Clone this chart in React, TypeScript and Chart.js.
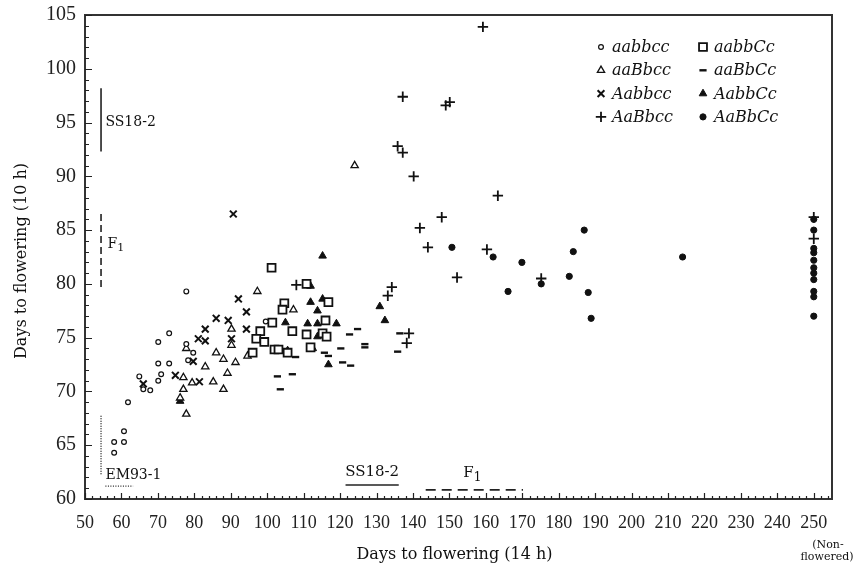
import React, { useEffect, useRef } from 'react';
import { Chart, registerables } from 'chart.js';

Chart.register(...registerables);

type P = [number, number];

// ---- series data: [days to flowering 14 h, days to flowering 10 h] ----
const aabbcc: P[] = [
  [58.0, 65.3], [60.7, 66.3], [58.0, 64.3], [60.7, 65.3], [61.8, 69.0], [64.9, 71.4],
  [66.0, 70.2], [67.9, 70.1], [70.1, 71.0], [70.9, 71.6], [70.1, 72.6], [73.1, 72.6],
  [70.1, 74.6], [73.1, 75.4], [77.8, 79.3], [77.8, 74.4], [78.3, 72.9], [79.7, 73.6],
  [99.6, 76.5],
];
const aabbCc: P[] = [
  [101.2, 81.5], [110.8, 80.0], [104.7, 78.2], [104.2, 77.6], [116.8, 78.3], [101.4, 76.4],
  [106.9, 75.6], [98.1, 75.6], [116.0, 76.6], [110.8, 75.3], [115.2, 75.4], [116.3, 75.1],
  [97.0, 74.9], [99.2, 74.6], [96.0, 73.6], [102.0, 73.9], [103.1, 73.9], [111.9, 74.1],
  [105.6, 73.6],
];
const aaBbcc: P[] = [
  [77.0, 71.3], [77.0, 70.2], [76.1, 69.4], [77.8, 67.9], [77.8, 74.0], [79.4, 70.8],
  [83.0, 72.3], [85.2, 70.9], [86.0, 73.6], [88.0, 73.0], [88.0, 70.2], [89.1, 71.7],
  [90.2, 75.8], [90.2, 74.3], [91.3, 72.7], [94.6, 73.3], [97.3, 79.3], [107.2, 77.6],
  [124.0, 91.0],
];
const aaBbCc: P[] = [
  [122.6, 75.3], [124.8, 75.8], [126.8, 74.4], [126.8, 74.1], [107.8, 73.2], [115.7, 73.6],
  [116.8, 73.3], [120.2, 74.0], [120.7, 72.7], [122.9, 72.4], [102.8, 71.4], [106.9, 71.6],
  [103.6, 70.2], [136.4, 75.4], [135.8, 73.7],
];
const Aabbcc: P[] = [
  [66.0, 70.7], [74.8, 71.5], [79.7, 72.8], [81.1, 74.9], [81.4, 70.9], [83.0, 74.7],
  [83.0, 75.8], [86.0, 76.8], [89.3, 76.6], [90.2, 74.9], [90.7, 86.5], [92.1, 78.6],
  [94.3, 77.4], [94.3, 75.8],
];
const AabbCc: P[] = [
  [115.2, 82.6], [111.9, 79.8], [111.9, 78.3], [115.2, 78.6], [113.8, 77.5], [105.0, 76.4],
  [111.1, 76.3], [113.8, 76.3], [119.0, 76.3], [113.8, 75.1], [105.6, 73.8], [112.5, 74.0],
  [116.8, 72.5], [130.9, 77.9], [132.3, 76.6], [76.1, 69.1],
];
const AaBbcc: P[] = [
  [108.0, 79.9], [133.1, 78.9], [134.2, 79.7], [135.8, 92.8], [137.2, 92.2], [137.2, 97.4],
  [138.9, 75.4], [138.3, 74.5], [140.2, 90.0], [141.9, 85.2], [144.1, 83.4], [147.9, 86.2],
  [149.0, 96.6], [150.1, 96.9], [152.1, 80.6], [159.2, 103.9], [160.3, 83.2], [163.3, 88.2],
  [175.2, 80.5], [250, 86.2], [250, 84.2],
];
const AaBbCc: P[] = [
  [150.7, 83.4], [162.0, 82.5], [169.9, 82.0], [166.1, 79.3], [175.2, 80.0], [182.9, 80.7],
  [184.0, 83.0], [187.0, 85.0], [188.1, 79.2], [188.9, 76.8], [214.0, 82.5], [250, 86.0],
  [250, 85.0], [250, 83.3], [250, 82.9], [250, 82.2], [250, 81.5], [250, 81.0], [250, 80.4],
  [250, 79.3], [250, 78.8], [250, 77.0],
];

const seriesNames = ['aabbcc', 'aabbCc', 'aaBbcc', 'aaBbCc', 'Aabbcc', 'AabbCc', 'AaBbcc', 'AaBbCc'];
const seriesData: P[][] = [aabbcc, aabbCc, aaBbcc, aaBbCc, Aabbcc, AabbCc, AaBbcc, AaBbCc];

// ---- axis ticks ----
const xTicks = [50, 60, 70, 80, 90, 100, 110, 120, 130, 140, 150, 160, 170, 180, 190, 200, 210, 220, 230, 240, 250];
const yTicks = [60, 65, 70, 75, 80, 85, 90, 95, 100, 105];

// ---- parental / F1 reference ranges ----
const ss18VertX = [54.4, 54.4];
const ss18VertY = [92.3, 98.2];
const f1VertX = [54.4, 54.4];
const f1VertY = [79.7, 86.7];
const em93VertX = [54.4, 54.4];
const em93VertY = [62.3, 67.8];
const em93UnderX = [55.6, 63.2];
const em93UnderY = [61.2, 61.2];
const ss18HorizX = [121.5, 136.1];
const ss18HorizY = [61.3, 61.3];
const f1HorizX = [143.5, 170.2];
const f1HorizY = [60.85, 60.85];

const INK = '#111';

type MStyle = { ps: string; r: number; fill: string; bw: number };
const markerStyles: MStyle[] = [
  { ps: 'circle', r: 2.4, fill: '#fff', bw: 1.2 },
  { ps: 'rect', r: 5.6, fill: '#fff', bw: 1.8 },
  { ps: 'triangle', r: 4.2, fill: '#fff', bw: 1.3 },
  { ps: 'line', r: 3.6, fill: INK, bw: 2.4 },
  { ps: 'crossRot', r: 4.8, fill: INK, bw: 2 },
  { ps: 'triangle', r: 4.4, fill: INK, bw: 1 },
  { ps: 'cross', r: 5.2, fill: INK, bw: 1.8 },
  { ps: 'circle', r: 3.1, fill: INK, bw: 1 },
];

function drawMarker(ctx: CanvasRenderingContext2D, m: MStyle, x: number, y: number) {
  ctx.save();
  ctx.strokeStyle = INK;
  ctx.fillStyle = m.fill;
  ctx.lineWidth = m.bw;
  ctx.beginPath();
  const r = m.r;
  if (m.ps === 'circle') {
    ctx.arc(x, y, r, 0, Math.PI * 2);
    ctx.fill();
    ctx.stroke();
  } else if (m.ps === 'rect') {
    const s = r * Math.SQRT1_2;
    ctx.rect(x - s, y - s, 2 * s, 2 * s);
    ctx.fill();
    ctx.stroke();
  } else if (m.ps === 'triangle') {
    const a = -Math.PI / 2;
    for (let i = 0; i < 3; i++) {
      const t = a + (i * 2 * Math.PI) / 3;
      const px = x + Math.cos(t) * r;
      const py = y + Math.sin(t) * r;
      if (i === 0) ctx.moveTo(px, py); else ctx.lineTo(px, py);
    }
    ctx.closePath();
    ctx.fill();
    ctx.stroke();
  } else if (m.ps === 'line') {
    ctx.moveTo(x - r, y);
    ctx.lineTo(x + r, y);
    ctx.stroke();
  } else if (m.ps === 'crossRot') {
    const o = r * Math.SQRT1_2;
    ctx.moveTo(x - o, y - o); ctx.lineTo(x + o, y + o);
    ctx.moveTo(x - o, y + o); ctx.lineTo(x + o, y - o);
    ctx.stroke();
  } else if (m.ps === 'cross') {
    ctx.moveTo(x - r, y); ctx.lineTo(x + r, y);
    ctx.moveTo(x, y - r); ctx.lineTo(x, y + r);
    ctx.stroke();
  }
  ctx.restore();
}

const SERIF = '"Liberation Serif", "Times New Roman", serif';
const WIDE = '"DejaVu Serif", serif';

const decorPlugin = {
  id: 'decor',
  afterDatasetsDraw(chart: any) {
    const { ctx, chartArea: a, scales } = chart;
    const xs = scales.x;
    const ys = scales.y;
    ctx.save();
    // frame
    ctx.strokeStyle = '#333';
    ctx.lineWidth = 2;
    ctx.strokeRect(a.left, a.top, a.right - a.left, a.bottom - a.top);
    // inward ticks
    ctx.lineWidth = 1.2;
    ctx.strokeStyle = '#222';
    ctx.beginPath();
    for (let v = 60; v <= 105; v++) {
      const py = Math.round(ys.getPixelForValue(v)) + 0.5;
      const len = v % 5 === 0 ? 7 : 4;
      ctx.moveTo(a.left, py);
      ctx.lineTo(a.left + len, py);
    }
    for (let v = 50; v <= 254; v += 2) {
      const px = Math.round(xs.getPixelForValue(v)) + 0.5;
      const len = v % 10 === 0 ? 6 : 3;
      ctx.moveTo(px, a.bottom);
      ctx.lineTo(px, a.bottom - len);
    }
    ctx.stroke();

    ctx.fillStyle = '#111';
    // annotation texts
    const text = (t: string, vx: number, vy: number, align: CanvasTextAlign, size: number) => {
      ctx.font = `${size}px ${WIDE}`;
      ctx.textAlign = align;
      ctx.textBaseline = 'middle';
      ctx.fillText(t, xs.getPixelForValue(vx), ys.getPixelForValue(vy));
    };
    const f1 = (vx: number, vy: number, size: number) => {
      const px = xs.getPixelForValue(vx);
      const py = ys.getPixelForValue(vy);
      ctx.font = `${size}px ${WIDE}`;
      ctx.textAlign = 'left';
      ctx.textBaseline = 'middle';
      ctx.fillText('F', px, py);
      const w = ctx.measureText('F').width;
      ctx.font = `${Math.round(size * 0.8)}px ${WIDE}`;
      ctx.fillText('1', px + w, py + size * 0.3);
    };
    text('SS18-2', 55.6, 95, 'left', 14);
    f1(56.2, 83.7, 14);
    text('EM93-1', 55.6, 62.2, 'left', 14);
    text('SS18-2', 128.8, 62.5, 'center', 15);
    f1(153.8, 62.4, 15);

    // axis titles
    ctx.font = `16px ${WIDE}`;
    ctx.textAlign = 'center';
    ctx.textBaseline = 'middle';
    ctx.fillText('Days to flowering (14 h)', (a.left + a.right) / 2 - 4, 555);
    ctx.save();
    ctx.translate(22, (a.top + a.bottom) / 2 + 4);
    ctx.rotate(-Math.PI / 2);
    ctx.fillText('Days to flowering (10 h)', 0, 0);
    ctx.restore();

    // non-flowered note
    ctx.font = `11px ${WIDE}`;
    ctx.fillText('(Non-', 828, 545);
    ctx.fillText('flowered)', 827, 557);

    // legend
    for (let i = 0; i < seriesNames.length; i++) {
      const col = i % 2;
      const row = Math.floor(i / 2);
      const my = a.top + 32 + row * 23.3;
      const mx = col === 0 ? a.right - 231 : a.right - 129;
      drawMarker(ctx, markerStyles[i], mx, my);
      ctx.font = `italic 16px ${WIDE}`;
      ctx.fillStyle = '#111';
      ctx.textAlign = 'left';
      ctx.textBaseline = 'middle';
      ctx.fillText(seriesNames[i], mx + 11, my + 1);
    }
    ctx.restore();
  },
};

function refLine(xv: number[], yv: number[], dash: number[], width: number) {
  return {
    type: 'scatter' as const,
    data: xv.map((x, i) => ({ x, y: yv[i] })),
    showLine: true,
    borderColor: '#222',
    borderWidth: width,
    borderDash: dash,
    pointRadius: 0,
    fill: false,
  };
}

export default function App() {
  const ref = useRef<HTMLCanvasElement | null>(null);
  useEffect(() => {
    document.body.style.margin = '0';
    const canvas = ref.current!;
    const pointSets = seriesData.map((d, i) => {
      const m = markerStyles[i];
      return {
        type: 'scatter' as const,
        label: seriesNames[i],
        data: d.map(([x, y]) => ({ x, y })),
        pointStyle: m.ps,
        pointRadius: m.r,
        pointBackgroundColor: m.fill,
        pointBorderColor: INK,
        pointBorderWidth: m.bw,
        showLine: false,
      };
    });
    const chart = new Chart(canvas, {
      type: 'scatter',
      data: {
        datasets: [
          refLine(ss18VertX, ss18VertY, [], 1.6),
          refLine(f1VertX, f1VertY, [7, 4], 1.6),
          refLine(em93VertX, em93VertY, [1, 1.5], 1.4),
          refLine(em93UnderX, em93UnderY, [1, 1.5], 1.4),
          refLine(ss18HorizX, ss18HorizY, [], 1.6),
          refLine(f1HorizX, f1HorizY, [10, 6], 1.6),
          ...pointSets,
        ] as any,
      },
      options: {
        responsive: false,
        animation: false,
        devicePixelRatio: 1,
        layout: { padding: { top: 15, right: 29, left: 0, bottom: 0 } },
        plugins: { legend: { display: false }, tooltip: { enabled: false } },
        scales: {
          x: {
            type: 'linear',
            min: 50,
            max: 255,
            afterBuildTicks: (s: any) => { s.ticks = xTicks.map((v) => ({ value: v })); },
            afterFit: (s: any) => { s.height = 74; },
            grid: { display: false },
            border: { display: false },
            ticks: {
              font: { family: SERIF, size: 18 },
              color: '#222',
              padding: 5,
              maxRotation: 0,
              autoSkip: false,
            },
          },
          y: {
            type: 'linear',
            min: 60,
            max: 105,
            afterBuildTicks: (s: any) => { s.ticks = yTicks.map((v) => ({ value: v })); },
            afterFit: (s: any) => { s.width = 85; },
            grid: { display: false },
            border: { display: false },
            ticks: {
              font: { family: SERIF, size: 20 },
              color: '#222',
              padding: 1,
              autoSkip: false,
            },
          },
        },
      } as any,
      plugins: [decorPlugin],
    });
    return () => chart.destroy();
  }, []);
  return (
    <div style={{ width: 861, height: 573, background: '#fff' }}>
      <canvas ref={ref} width={861} height={573} style={{ display: 'block' }} />
    </div>
  );
}
